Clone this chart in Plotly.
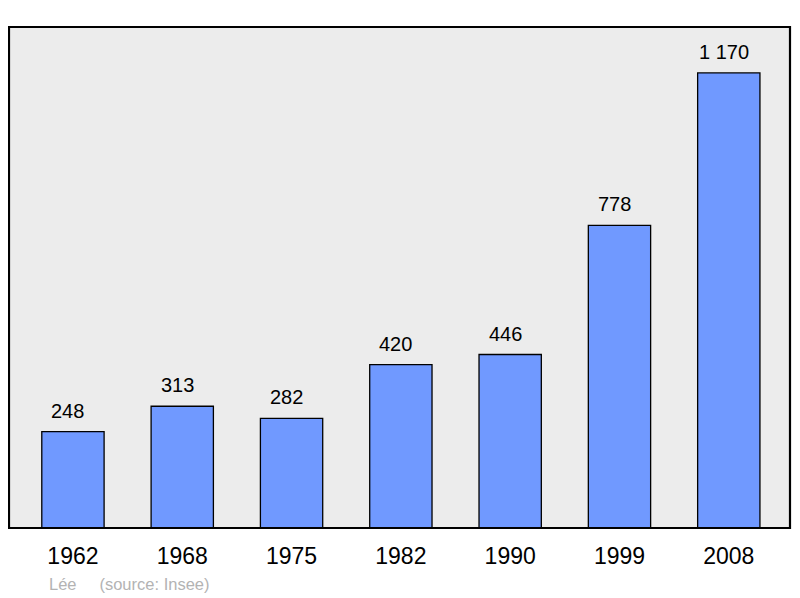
import plotly.graph_objects as go

years = ["1962", "1968", "1975", "1982", "1990", "1999", "2008"]
population = [248, 313, 282, 420, 446, 778, 1170]
labels = ["248", "313", "282", "420", "446", "778", "1 170"]

xpos = list(range(len(years)))

fig = go.Figure()
fig.add_trace(go.Bar(
    x=xpos, y=population, width=0.57,
    marker=dict(color="#7099ff", line=dict(color="#000000", width=1.3)),
    hoverinfo="skip",
))

for x, y, t in zip(xpos, population, labels):
    fig.add_annotation(x=x, y=y, text=t, showarrow=False, yanchor="bottom",
                       yshift=8, xshift=-5,
                       font=dict(family="Liberation Sans", size=20, color="#000000"))

fig.add_shape(type="rect", xref="paper", yref="paper", x0=0, x1=1, y0=0, y1=1,
              line=dict(color="#000000", width=2.2), layer="above")

fig.add_annotation(xref="paper", yref="paper", x=(47-9)/781, y=-0.112, xanchor="left", yanchor="middle",
                   text="Lée&nbsp;&nbsp;&nbsp;&nbsp;&nbsp;(source: Insee)", showarrow=False,
                   font=dict(family="Liberation Sans", size=16.5, color="#b3b3b3"))

fig.update_layout(
    width=792, height=590,
    margin=dict(l=1, r=10, t=19, b=70),
    paper_bgcolor="#ffffff", plot_bgcolor="#ececec",
    showlegend=False,
    xaxis=dict(range=[-0.585, 6.56], tickmode="array", tickvals=xpos, ticktext=years,
               showgrid=False, zeroline=False, ticks="", ticklen=0, ticklabelstandoff=12,
               tickfont=dict(family="Liberation Sans", size=23, color="#000000")),
    yaxis=dict(range=[0, 1288], showgrid=False, zeroline=False, showticklabels=False, ticks=""),
)

fig.write_html("out.html")
